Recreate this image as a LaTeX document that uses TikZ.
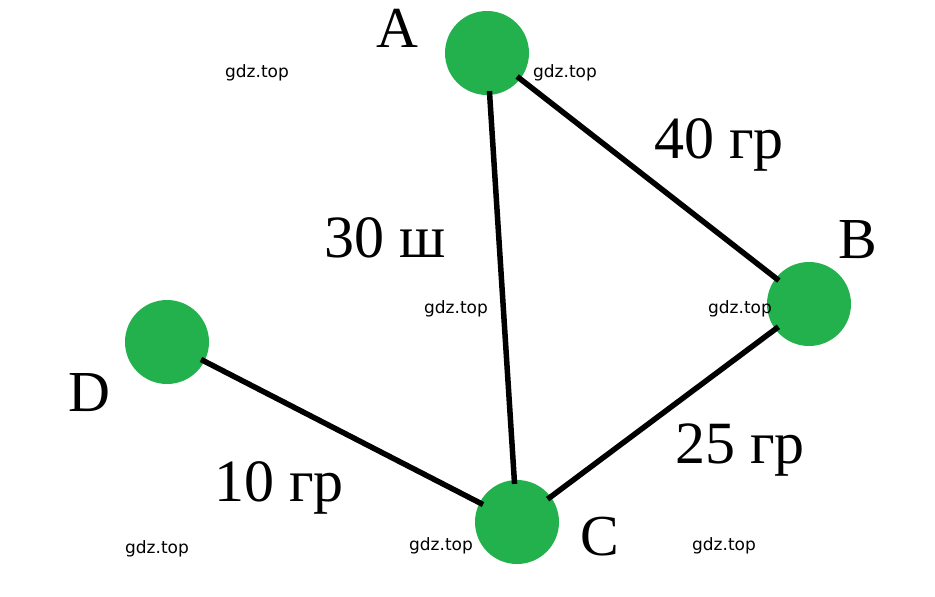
\documentclass[tikz,border=0pt]{standalone}
\usepackage{fontspec}
\setmainfont{Liberation Serif}
\newfontfamily\wmfont{DejaVu Sans}
\definecolor{vgreen}{RGB}{34,177,76}
\begin{document}
\begin{tikzpicture}[x=1pt,y=-1pt,
  vertex/.style={circle,fill=vgreen,inner sep=0pt,minimum size=84pt},
  edge/.style={line width=5.5pt,black,shorten <=-4pt,shorten >=-4pt},
  vlabel/.style={font=\fontsize{58}{62}\selectfont,inner sep=0pt},
  elabel/.style={font=\fontsize{60}{64}\selectfont,inner sep=0pt},
  wm/.style={font=\wmfont\fontsize{17}{20}\selectfont,inner sep=0pt}]
\useasboundingbox[fill=white] (0,0) rectangle (935,597);
\node[vertex] (A) at (487,53) {};
\node[vertex] (B) at (809,304) {};
\node[vertex] (C) at (517,522) {};
\node[vertex] (D) at (167,342) {};
\draw[edge] (A) -- (C);
\draw[edge] (A) -- (B);
\draw[edge] (C) -- (B);
\draw[edge] (D) -- (C);
\node[vlabel] (lA) at (397,28) {A};
\node[vlabel] (lB) at (858,240) {B};
\node[vlabel] (lC) at (600,537) {C};
\node[vlabel] (lD) at (89,393) {D};
\node[elabel] (e1) at (385,238) {30 ш};
\node[elabel] (e2) at (719,145) {40 гр};
\node[elabel] (e3) at (740,450) {25 гр};
\node[elabel] (e4) at (279,488) {10 гр};
\node[wm] (w1) at (257,73) {gdz.top};
\node[wm] (w2) at (565,73) {gdz.top};
\node[wm] (w3) at (456,309) {gdz.top};
\node[wm] (w4) at (740,309) {gdz.top};
\node[wm] (w5) at (157,549) {gdz.top};
\node[wm] (w6) at (441,546) {gdz.top};
\node[wm] (w7) at (724,546) {gdz.top};
\end{tikzpicture}
\end{document}
